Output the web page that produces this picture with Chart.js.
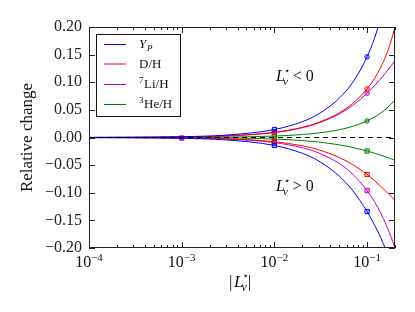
<!DOCTYPE html>
<html>
<head>
<meta charset="utf-8">
<script src="https://cdn.jsdelivr.net/npm/chart.js@4.4.1/dist/chart.umd.min.js"></script>
<style>
  body { margin: 0; background: #fff; }
  #wrap { width: 415px; height: 312px; position: relative; }
</style>
</head>
<body>
<div id="wrap"><canvas id="chart"></canvas></div>
<script>
// |L| sample points (log axis)
const xs = [1e-4, 3e-4, 1e-3, 3e-3, 0.01, 0.02, 0.03, 0.05, 0.07, 0.1, 0.12, 0.14, 0.16, 0.18, 0.2];

// L < 0 branch (upper curves)
const ypUp = [0.000145, 0.000435, 0.00145, 0.00434, 0.0144, 0.0286, 0.0427, 0.0710, 0.0999, 0.146, 0.1794, 0.2158, 0.256, 0.300, 0.349];
const dhUp = [0.000095, 0.000285, 0.00095, 0.00284, 0.0093, 0.0184, 0.0273, 0.0446, 0.0617, 0.088, 0.1067, 0.1267, 0.1487, 0.1729, 0.200];
const liUp = [0.00009, 0.00027, 0.0009, 0.0027, 0.0090, 0.0177, 0.0262, 0.0426, 0.0582, 0.080, 0.0935, 0.1061, 0.1179, 0.1289, 0.139];
const heUp = [0.000026, 0.000078, 0.00026, 0.00078, 0.0026, 0.0054, 0.0082, 0.0140, 0.0202, 0.030, 0.0370, 0.0442, 0.0518, 0.0598, 0.068];

// L > 0 branch (lower curves)
const ypDown = [-0.000145, -0.000435, -0.00145, -0.00434, -0.0144, -0.0286, -0.0425, -0.0698, -0.0961, -0.134, -0.158, -0.181, -0.2038, -0.2254, -0.246];
const dhDown = [-0.000077, -0.00023, -0.00077, -0.0023, -0.0076, -0.0150, -0.0222, -0.0360, -0.0490, -0.067, -0.0780, -0.0882, -0.0976, -0.1062, -0.114];
const liDown = [-0.000092, -0.000276, -0.00092, -0.00276, -0.0092, -0.0186, -0.0280, -0.0470, -0.0664, -0.096, -0.1162, -0.1366, -0.1574, -0.1786, -0.200];
const heDown = [-0.0000285, -0.0000855, -0.000285, -0.00085, -0.0028, -0.0055, -0.0082, -0.0133, -0.0180, -0.0245, -0.0284, -0.0321, -0.0354, -0.0383, -0.041];

const markerX = [0.01, 0.1];
const xMajor = [1e-4, 1e-3, 1e-2, 1e-1];
const xMajorExp = ['\u22124', '\u22123', '\u22122', '\u22121'];
const yTickVals = [-0.2, -0.15, -0.1, -0.05, 0, 0.05, 0.1, 0.15, 0.2];

const BLUE = '#0000ff', RED = '#ff0000', MAG = '#bf00bf', GREEN = '#008000';
const SERIF = '"Liberation Serif", "DejaVu Serif", serif';

function pts(arr) {
  return xs.map((x, i) => ({ x: x, y: arr[i] }));
}

function curve(arr, color, upper, extra) {
  const marks = extra ? markerX.concat([1e-3]) : markerX;
  return {
    data: pts(arr),
    borderColor: color,
    backgroundColor: color + '40',
    borderWidth: 1,
    cubicInterpolationMode: 'monotone',
    pointRadius: xs.map(x => marks.includes(x) ? (upper && x === 0.1 ? 2.2 : 3) : 0),
    pointStyle: xs.map(x => (upper && x === 0.1) ? 'circle' : 'rect'),
    pointBorderWidth: 1,
    pointBorderColor: color,
    pointBackgroundColor: xs.map(x => x === 1e-3 ? color : color + '40')
  };
}

const datasets = [
  {
    data: [{ x: 1e-4, y: 0 }, { x: 0.2, y: 0 }],
    borderColor: '#000', borderWidth: 1, borderDash: [5, 4], pointRadius: 0
  },
  curve(ypDown, BLUE, false), curve(ypUp, BLUE, true),
  curve(dhDown, RED, false), curve(dhUp, RED, true),
  curve(heDown, GREEN, false), curve(heUp, GREEN, true),
  curve(liDown, MAG, false, true), curve(liUp, MAG, true)
];

// draw italic L with star superscript and nu subscript, returns end x
function drawLnu(ctx, x, base, size) {
  ctx.textAlign = 'left';
  ctx.font = 'italic ' + size + 'px ' + SERIF;
  ctx.fillText('L', x, base);
  let w = ctx.measureText('L').width;
  ctx.font = Math.round(size * 0.6) + 'px "DejaVu Sans", sans-serif';
  ctx.fillText('\u22c6', x + w - 1, base - size * 0.45);
  ctx.font = 'italic ' + Math.round(size * 0.7) + 'px ' + SERIF;
  ctx.fillText('\u03bd', x + w - 2, base + size * 0.22);
  return x + w - 2 + ctx.measureText('\u03bd').width + 1;
}

const decor = {
  id: 'decor',
  afterDatasetsDraw(chart) {
    const ctx = chart.ctx;
    const a = chart.chartArea;
    const sx = chart.scales.x, sy = chart.scales.y;
    ctx.save();
    ctx.strokeStyle = '#222';
    ctx.fillStyle = '#111';
    ctx.lineWidth = 1;

    // frame
    ctx.strokeRect(Math.round(a.left) + 0.5, Math.round(a.top) + 0.5,
      Math.round(a.right - a.left) - 1, Math.round(a.bottom - a.top) - 1);

    // x ticks (inward, top & bottom, with log minors)
    ctx.beginPath();
    for (let d = -4; d <= -1; d++) {
      for (let m = 1; m <= 9; m++) {
        const v = m * Math.pow(10, d);
        if (v > 0.2 + 1e-9) continue;
        const px = Math.round(sx.getPixelForValue(v)) + 0.5;
        const len = m === 1 ? 6 : 3;
        ctx.moveTo(px, a.bottom); ctx.lineTo(px, a.bottom - len);
        ctx.moveTo(px, a.top); ctx.lineTo(px, a.top + len);
      }
    }
    // y ticks (inward, left & right)
    yTickVals.forEach(v => {
      const py = Math.round(sy.getPixelForValue(v)) + 0.5;
      ctx.moveTo(a.left, py); ctx.lineTo(a.left + 6, py);
      ctx.moveTo(a.right, py); ctx.lineTo(a.right - 6, py);
    });
    ctx.stroke();

    // x tick labels 10^n
    ctx.textBaseline = 'alphabetic';
    xMajor.forEach((v, i) => {
      const px = sx.getPixelForValue(v);
      ctx.font = '16px ' + SERIF;
      const w1 = ctx.measureText('10').width;
      ctx.font = '11px ' + SERIF;
      const w2 = ctx.measureText(xMajorExp[i]).width;
      const x0 = px - (w1 + w2) / 2;
      ctx.textAlign = 'left';
      ctx.font = '16px ' + SERIF;
      ctx.fillText('10', x0, 267);
      ctx.font = '11px ' + SERIF;
      ctx.fillText(xMajorExp[i], x0 + w1, 261);
    });

    // x axis title |L*nu|
    ctx.font = '17px ' + SERIF;
    ctx.textAlign = 'left';
    ctx.fillText('|', 229, 287);
    let ex = drawLnu(ctx, 234, 287, 17);
    ctx.font = '17px ' + SERIF;
    ctx.fillText('|', ex, 287);

    // y axis title
    ctx.save();
    ctx.translate(32, (a.top + a.bottom) / 2);
    ctx.rotate(-Math.PI / 2);
    ctx.textAlign = 'center';
    ctx.font = '17px ' + SERIF;
    ctx.fillText('Relative change', 0, 0);
    ctx.restore();

    // region annotations
    ex = drawLnu(ctx, 276, 81, 16);
    ctx.font = '16px ' + SERIF;
    ctx.fillText(' < 0', ex, 81);
    ex = drawLnu(ctx, 276, 191, 16);
    ctx.font = '16px ' + SERIF;
    ctx.fillText(' > 0', ex, 191);

    // legend
    ctx.fillStyle = '#fff';
    ctx.fillRect(96, 34, 84, 83);
    ctx.strokeStyle = '#111';
    ctx.strokeRect(96.5, 34.5, 84, 82);
    const rows = [
      { c: BLUE, y: 44 }, { c: RED, y: 63.5 }, { c: MAG, y: 84 }, { c: GREEN, y: 104 }
    ];
    rows.forEach(r => {
      ctx.strokeStyle = r.c;
      ctx.beginPath();
      ctx.moveTo(104, r.y + 0.5); ctx.lineTo(126, r.y + 0.5);
      ctx.stroke();
    });
    ctx.fillStyle = '#111';
    ctx.textAlign = 'left';
    ctx.font = 'italic 13px ' + SERIF;
    ctx.fillText('Y', 139, 48);
    ctx.font = 'italic 9px ' + SERIF;
    ctx.fillText('P', 139 + 8, 51);
    ctx.font = '13px ' + SERIF;
    ctx.fillText('D/H', 139, 67.5);
    ctx.font = '9px ' + SERIF;
    ctx.fillText('7', 139, 83);
    ctx.fillText('3', 139, 103);
    ctx.font = '13px ' + SERIF;
    ctx.fillText('Li/H', 144, 88);
    ctx.fillText('He/H', 144, 108);

    ctx.restore();
  }
};

new Chart(document.getElementById('chart'), {
  type: 'line',
  data: { datasets: datasets },
  options: {
    responsive: true,
    maintainAspectRatio: false,
    animation: false,
    layout: { padding: { top: 27, right: 20, left: 0, bottom: 0 } },
    plugins: { legend: { display: false }, tooltip: { enabled: false } },
    scales: {
      x: {
        type: 'logarithmic',
        min: 1e-4,
        max: 0.2,
        grid: { display: false, drawTicks: false },
        border: { display: false },
        ticks: { display: false },
        afterFit: s => { s.height = 64; }
      },
      y: {
        type: 'linear',
        min: -0.2,
        max: 0.2,
        grid: { display: false, drawTicks: false },
        border: { display: false },
        ticks: {
          stepSize: 0.05,
          padding: 7,
          color: '#222',
          font: { family: SERIF, size: 16 },
          callback: v => (v < -1e-9 ? '\u2212' : '') + Math.abs(v).toFixed(2)
        },
        afterFit: s => { s.width = 89; }
      }
    }
  },
  plugins: [decor]
});
</script>
</body>
</html>
